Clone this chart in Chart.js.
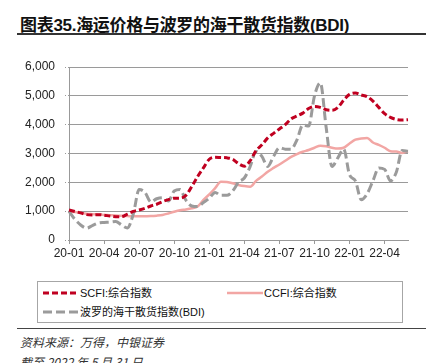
<!DOCTYPE html>
<html>
<head>
<meta charset="utf-8">
<script src="https://cdn.jsdelivr.net/npm/chart.js@4"></script>
<style>
  html, body { margin: 0; padding: 0; background: #fff; width: 426px; height: 363px; overflow: hidden; }
  body { position: relative; font-family: "Liberation Sans", Arial, "Noto Sans CJK SC", sans-serif; }
  #title { position: absolute; left: 20px; top: 11px; font-size: 17px; font-weight: bold; color: #111; white-space: nowrap;
           font-family: "Liberation Sans", Arial, "Noto Sans CJK SC", sans-serif; letter-spacing: -0.3px; }
  #rule1 { position: absolute; left: 17px; right: 0; top: 33px; height: 2px; background: #333; }
  #wrap { position: absolute; left: 0; top: 0; width: 426px; height: 270px; }
  #legend { position: absolute; left: 37px; top: 281px; width: 364px; height: 40px; border: 1px solid #a6a6a6; }
  .li { position: absolute; font-size: 11px; color: #111; white-space: nowrap; font-family: "Liberation Sans", Arial, "Noto Sans CJK SC", sans-serif; }
  .li svg { position: absolute; left: 0; top: 0; }
  .li span { position: absolute; top: 0; line-height: 14px; }
  #rule2 { position: absolute; left: 17px; right: 0; top: 328px; height: 1px; background: #444; }
  .src { position: absolute; left: 20px; font-size: 12px; font-style: italic; color: #333; white-space: nowrap; font-family: "Noto Sans CJK SC", sans-serif; }
</style>
</head>
<body>
<div id="title">图表35.海运价格与波罗的海干散货指数(BDI)</div>
<div id="rule1"></div>
<div id="wrap"><canvas id="c" width="426" height="270"></canvas></div>
<div id="legend"></div>
<div id="rule2"></div>
<div class="src" style="top:333px">资料来源：万得，中银证券</div>
<div class="src" style="top:353px">截至 2022 年 5 月 31 日</div>
<script>
// Half-month categories
const dates = [
  '2020-01-01','2020-01-16','2020-02-01','2020-02-16','2020-03-01','2020-03-16','2020-04-01','2020-04-16',
  '2020-05-01','2020-05-16','2020-06-01','2020-06-16','2020-07-01','2020-07-16','2020-08-01','2020-08-16',
  '2020-09-01','2020-09-16','2020-10-01','2020-10-16','2020-11-01','2020-11-16','2020-12-01','2020-12-16',
  '2021-01-01','2021-01-16','2021-02-01','2021-02-16','2021-03-01','2021-03-16','2021-04-01','2021-04-16',
  '2021-05-01','2021-05-16','2021-06-01','2021-06-16','2021-07-01','2021-07-16','2021-08-01','2021-08-16',
  '2021-09-01','2021-09-16','2021-10-01','2021-10-16','2021-11-01','2021-11-16','2021-12-01','2021-12-16',
  '2022-01-01','2022-01-16','2022-02-01','2022-02-16','2022-03-01','2022-03-16','2022-04-01','2022-04-16',
  '2022-05-01','2022-05-16','2022-05-31'
];
const tickLabels = ['20-01','20-04','20-07','20-10','21-01','21-04','21-07','21-10','22-01','22-04'];
const yTicks = [0, 1000, 2000, 3000, 4000, 5000, 6000];

const seriesNames = ['SCFI:综合指数', 'CCFI:综合指数', '波罗的海干散货指数(BDI)'];

const scfi = [
  1040, 990, 940, 880, 870, 880, 860, 830, 810, 810, 900, 990,
  1040, 1100, 1180, 1240, 1330, 1400, 1450, 1450, 1550, 1850, 2200, 2500,
  2800, 2870, 2860, 2850, 2800, 2650, 2560, 2750, 3100, 3300, 3540, 3700,
  3850, 4000, 4200, 4300, 4400, 4560, 4630, 4600, 4520, 4500, 4600, 4850,
  5050, 5100, 5030, 4970, 4820, 4600, 4380, 4250, 4180, 4160, 4170
];
const ccfi = [
  990, 970, 940, 910, 895, 880, 870, 860, 850, 840, 830, 820,
  820, 825, 830, 845, 870, 920, 980, 1030, 1060, 1100, 1160, 1390,
  1580, 1800, 2020, 2010, 1970, 1910, 1870, 1850, 2050, 2200, 2370, 2500,
  2620, 2750, 2880, 2980, 3060, 3120, 3200, 3270, 3250, 3200, 3170, 3200,
  3350, 3480, 3520, 3540, 3380, 3300, 3200, 3080, 3070, 3020, 3080
];
const bdi = [
  990, 720, 520, 410, 500, 590, 610, 620, 640, 520, 420, 900,
  1750, 1650, 1320, 1430, 1470, 1350, 1700, 1750, 1380, 1180, 1160, 1300,
  1450, 1650, 1550, 1550, 1700, 2000, 2150, 2550, 3070, 2900, 2550, 2900,
  3200, 3150, 3150, 3470, 3990, 3950, 5000, 5450, 3900, 2550, 2850, 3150,
  2260, 2050, 1400, 1600, 2050, 2500, 2450, 2050, 2350, 3100, 3080
];

const colors = ['#C00020', '#F2A6A4', '#9B9B9B'];
const dashes = [[6, 3], [], [9, 4]];
const widths = [3, 2.5, 3];

function tickText(i) {
  const d = dates[i];
  const lab = d.slice(2, 7);
  if (d.slice(8) === '01' && tickLabels.includes(lab)) return lab;
  return null;
}

const axisFont = { family: "'Liberation Sans Narrow','Liberation Sans',Arial,sans-serif", size: 12 };

new Chart(document.getElementById('c'), {
  type: 'line',
  data: {
    labels: dates,
    datasets: [scfi, ccfi, bdi].map((d, k) => ({
      label: seriesNames[k],
      data: d,
      borderColor: colors[k],
      backgroundColor: colors[k],
      borderWidth: widths[k],
      borderDash: dashes[k],
      pointRadius: 0,
      cubicInterpolationMode: 'monotone',
      fill: false,
      order: [0, 2, 1][k]
    }))
  },
  options: {
    responsive: false,
    animation: false,
    layout: { padding: { left: 0, right: 18, top: 67, bottom: 0 } },
    plugins: { legend: { display: false }, tooltip: { enabled: false } },
    scales: {
      x: {
        type: 'category',
        offset: false,
        afterFit: s => { s.height = 30; },
        grid: { display: true, drawOnChartArea: false, drawTicks: true, tickLength: 4, color: '#999', tickColor: '#999' },
        border: { display: true, color: '#999', width: 1 },
        ticks: { autoSkip: false, maxRotation: 0, minRotation: 0, padding: 2, color: '#222', font: axisFont,
                 callback: (v, i) => tickText(i) }
      },
      y: {
        min: 0, max: 6000,
        afterFit: s => { s.width = 69; },
        afterBuildTicks: s => { s.ticks = yTicks.map(v => ({ value: v })); },
        grid: { color: '#9a9a9a', lineWidth: 1, tickLength: 4, tickColor: '#9a9a9a', borderDash: [1, 2], tickBorderDash: [1, 2] },
        border: { display: true, color: '#999', width: 1, dash: [] },
        ticks: { padding: 10, color: '#222', font: axisFont,
                 callback: v => v.toLocaleString('en-US') }
      }
    }
  }
});

// Legend (HTML, built from dataset names/styles)
const legend = document.getElementById('legend');
const pos = [[5, 4], [189, 4], [5, 23]];
seriesNames.forEach((name, k) => {
  const item = document.createElement('div');
  item.className = 'li';
  item.style.left = pos[k][0] + 'px';
  item.style.top = pos[k][1] + 'px';
  const dash = dashes[k].length ? `stroke-dasharray="${dashes[k].join(' ')}"` : '';
  item.innerHTML = `<svg width="36" height="14"><line x1="0" y1="7" x2="36" y2="7" stroke="${colors[k]}" stroke-width="${widths[k]}" ${dash}/></svg><span style="left:37px">${name}</span>`;
  legend.appendChild(item);
});
</script>
</body>
</html>
